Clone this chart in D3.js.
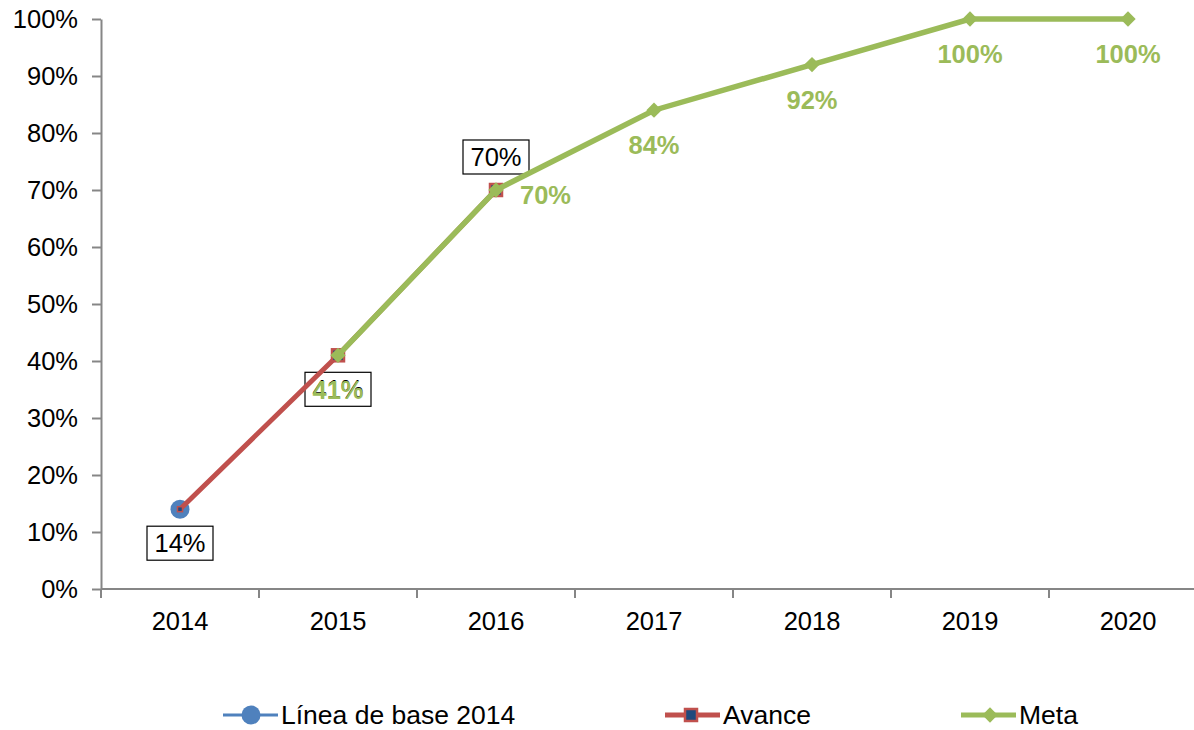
<!DOCTYPE html>
<html>
<head>
<meta charset="utf-8">
<script src="https://cdn.jsdelivr.net/npm/d3@7"></script>
<style>
  body { margin: 0; background: #fff; }
  svg { display: block; font-family: "Liberation Sans", Arial, sans-serif; }
</style>
</head>
<body>
<div id="chart"></div>
<script>
// chart values
var years = ["2014", "2015", "2016", "2017", "2018", "2019", "2020"];
var baseline = [0.14, null, null, null, null, null, null];
var avance = [0.14, 0.41, 0.70, null, null, null, null];
var meta = [null, 0.41, 0.70, 0.84, 0.92, 1.00, 1.00];
var yTicks = [0, 0.1, 0.2, 0.3, 0.4, 0.5, 0.6, 0.7, 0.8, 0.9, 1.0];
var legendNames = ["Línea de base 2014", "Avance", "Meta"];

var width = 1194, height = 730;
var blue = "#4F81BD", red = "#C0504D", green = "#9BBB59", axisGray = "#868686";

var svg = d3.select("#chart").append("svg")
    .attr("width", width)
    .attr("height", height);

var x = d3.scaleBand().domain(years).range([101, 1207]).padding(0);
var y = d3.scaleLinear().domain([0, 1]).range([589, 19]);
var cx = function(i) { return x(years[i]) + x.bandwidth() / 2; };

// y axis
var yAxis = svg.append("g")
    .attr("transform", "translate(101,0)")
    .call(d3.axisLeft(y).tickValues(yTicks).tickFormat(d3.format(".0%"))
        .tickSize(9).tickSizeOuter(0).tickPadding(14));
yAxis.select(".domain").attr("stroke", axisGray).attr("stroke-width", 2);
yAxis.selectAll(".tick line").attr("stroke", axisGray).attr("stroke-width", 2);
yAxis.selectAll(".tick text").attr("font-size", 25.5).attr("fill", "#000")
    .attr("font-family", "Liberation Sans, Arial, sans-serif");

// x axis: labels at band centres, ticks at band edges
var xAxis = svg.append("g")
    .attr("transform", "translate(0,589)")
    .call(d3.axisBottom(x).tickSize(0).tickSizeOuter(0).tickPadding(23));
xAxis.select(".domain").remove();
xAxis.selectAll(".tick text").attr("font-size", 25.5).attr("fill", "#000")
    .attr("font-family", "Liberation Sans, Arial, sans-serif");
svg.append("line")
    .attr("x1", 101).attr("x2", width)
    .attr("y1", 589).attr("y2", 589)
    .attr("stroke", axisGray).attr("stroke-width", 2);
svg.selectAll(".xedge")
    .data(years)
    .enter()
    .append("line")
    .attr("class", "xedge")
    .attr("x1", function(d) { return x(d); })
    .attr("x2", function(d) { return x(d); })
    .attr("y1", 589).attr("y2", 598)
    .attr("stroke", axisGray).attr("stroke-width", 2);

// boxed labels (Avance)
var boxes = [0, 1, 2];
var boxOffset = [34, 34, -33];
svg.selectAll(".lblbox")
    .data(boxes)
    .enter()
    .append("rect")
    .attr("class", "lblbox")
    .attr("x", function(i) { return cx(i) - 33; })
    .attr("y", function(i) { return y(avance[i]) + boxOffset[i] - 17; })
    .attr("width", 66)
    .attr("height", 34)
    .attr("fill", "none")
    .attr("stroke", "#000")
    .attr("stroke-width", 1.2);

var line = d3.line()
    .defined(function(d) { return d != null; })
    .x(function(d, i) { return cx(i); })
    .y(function(d) { return y(d); });

// baseline marker
baseline.forEach(function(d, i) {
    if (d == null) return;
    svg.append("circle")
        .attr("cx", cx(i))
        .attr("cy", y(d))
        .attr("r", 9.5)
        .attr("fill", blue);
});

// avance line
svg.append("path")
    .datum(avance)
    .attr("d", line)
    .attr("fill", "none")
    .attr("stroke", red)
    .attr("stroke-width", 5);
avance.forEach(function(d, i) {
    if (d == null) return;
    var s = i === 0 ? 5 : 12;
    svg.append("rect")
        .attr("x", cx(i) - s / 2)
        .attr("y", y(d) - s / 2)
        .attr("width", s)
        .attr("height", s)
        .attr("fill", "#1F497D")
        .attr("stroke", red)
        .attr("stroke-width", i === 0 ? 1.5 : 2.5);
});

// meta line
svg.append("path")
    .datum(meta)
    .attr("d", line)
    .attr("fill", "none")
    .attr("stroke", green)
    .attr("stroke-width", 5.5);
meta.forEach(function(d, i) {
    if (d == null) return;
    svg.append("path")
        .attr("d", d3.symbol().type(d3.symbolDiamond2).size(150)())
        .attr("transform", "translate(" + cx(i) + "," + y(d) + ")")
        .attr("fill", green);
});

// boxed label texts
svg.selectAll(".boxtext")
    .data(boxes)
    .enter()
    .append("text")
    .attr("class", "boxtext")
    .attr("x", function(i) { return cx(i); })
    .attr("y", function(i) { return y(avance[i]) + boxOffset[i] + 9; })
    .attr("text-anchor", "middle")
    .attr("font-size", 25.5)
    .text(function(i) { return d3.format(".0%")(avance[i]); });

// meta labels
meta.forEach(function(d, i) {
    if (d == null) return;
    var right = years[i] === "2016";
    svg.append("text")
        .attr("x", right ? cx(i) + 24 : cx(i))
        .attr("y", right ? y(d) + 14 : y(d) + 44)
        .attr("text-anchor", right ? "start" : "middle")
        .attr("font-size", 25.5)
        .attr("font-weight", "bold")
        .attr("fill", green)
        .text(d3.format(".0%")(d));
});

// legend
var legendY = 715;
var legendX = [223, 665, 961];
var lg = svg.selectAll(".legend")
    .data(legendNames)
    .enter()
    .append("g")
    .attr("class", "legend")
    .attr("transform", function(d, i) { return "translate(" + legendX[i] + "," + legendY + ")"; });
lg.append("line")
    .attr("x1", 0).attr("x2", 55)
    .attr("stroke", function(d, i) { return [blue, red, green][i]; })
    .attr("stroke-width", function(d, i) { return i === 0 ? 3 : 5; });
lg.each(function(d, i) {
    var g = d3.select(this);
    if (i === 0) {
        g.append("circle").attr("cx", 28).attr("r", 9.5).attr("fill", blue);
    } else if (i === 1) {
        g.append("rect").attr("x", 20).attr("y", -6).attr("width", 12).attr("height", 12)
            .attr("fill", "#1F497D").attr("stroke", red).attr("stroke-width", 2.5);
    } else {
        g.append("path").attr("d", d3.symbol().type(d3.symbolDiamond2).size(150)())
            .attr("transform", "translate(29,0)").attr("fill", green);
    }
});
lg.append("text")
    .attr("x", 58)
    .attr("y", 8.5)
    .attr("font-size", 26.5)
    .text(function(d) { return d; });
</script>
</body>
</html>
